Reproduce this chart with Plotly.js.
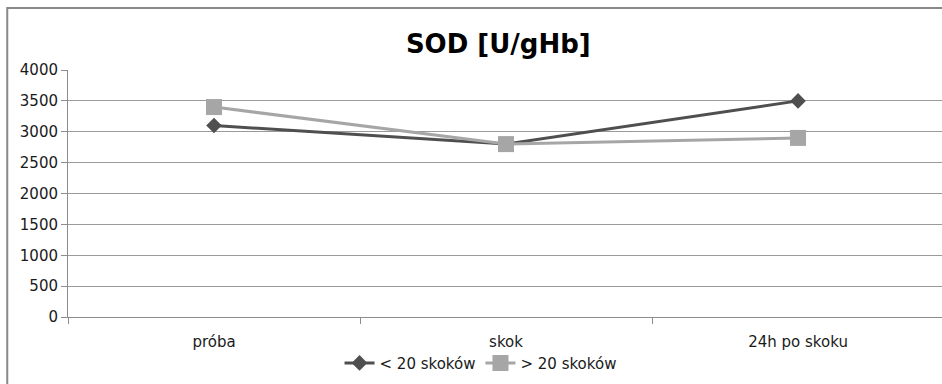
<!DOCTYPE html>
<html>
<head>
<meta charset="utf-8">
<script src="https://cdn.plot.ly/plotly-3.0.1.min.js"></script>
<style>html,body{margin:0;padding:0;background:#fff;}#chart{width:942px;height:384px;}</style>
</head>
<body>
<div id="chart"></div>
<script>
const categories = ["próba", "skok", "24h po skoku"];
const seriesNames = ["< 20 skoków", "> 20 skoków"];
const seriesLess20 = [3100, 2800, 3500];
const seriesMore20 = [3400, 2800, 2900];
const yTicks = [0, 500, 1000, 1500, 2000, 2500, 3000, 3500, 4000];

const font = "DejaVu Sans, sans-serif";
const traces = [
  {
    x: categories, y: seriesLess20, name: seriesNames[0], type: "scatter", mode: "lines+markers",
    line: {color: "#4f4f4f", width: 3},
    marker: {symbol: "diamond", size: 12, color: "#4f4f4f"}
  },
  {
    x: categories, y: seriesMore20, name: seriesNames[1], type: "scatter", mode: "lines+markers",
    line: {color: "#a6a6a6", width: 3},
    marker: {symbol: "square", size: 16, color: "#a6a6a6"}
  }
];

const layout = {
  width: 942, height: 384,
  margin: {l: 68, r: 0, t: 70, b: 67},
  paper_bgcolor: "#fff", plot_bgcolor: "#fff",
  showlegend: true,
  title: {text: "<b>SOD [U/gHb]</b>", font: {family: font, size: 26, color: "#000"}, x: 0.529, xanchor: "center", y: 0.885, yanchor: "middle"},
  xaxis: {
    type: "category", range: [-0.5, 2.493], showgrid: false,
    showline: true, linecolor: "#8c8c8c", linewidth: 1,
    ticks: "outside", tickson: "boundaries", ticklen: 6, tickcolor: "#8c8c8c",
    tickfont: {family: font, size: 15, color: "#1a1a1a"}, ticklabelstandoff: 11
  },
  yaxis: {
    range: [0, 4000], tickvals: yTicks, ticktext: yTicks.map(String),
    showgrid: true, gridcolor: "#9a9a9a", gridwidth: 1,
    showline: true, linecolor: "#8c8c8c", linewidth: 1,
    ticks: "outside", ticklen: 6, tickcolor: "#8c8c8c",
    tickfont: {family: font, size: 15, color: "#1a1a1a"}, zeroline: false, ticklabelstandoff: 0
  },
  legend: {
    orientation: "h", x: 0.472, xanchor: "center", y: -0.12, yanchor: "top",
    font: {family: font, size: 15, color: "#1a1a1a"},
    tracegroupgap: 0
  },
  shapes: [{
    type: "rect", xref: "paper", yref: "paper",
    x0: -0.0695, x1: 1.2, y0: -0.5, y1: 1.251,
    line: {color: "#888", width: 2}, fillcolor: "rgba(0,0,0,0)", layer: "below"
  }]
};

Plotly.newPlot("chart", traces, layout, {displayModeBar: false, staticPlot: true});
</script>
</body>
</html>
